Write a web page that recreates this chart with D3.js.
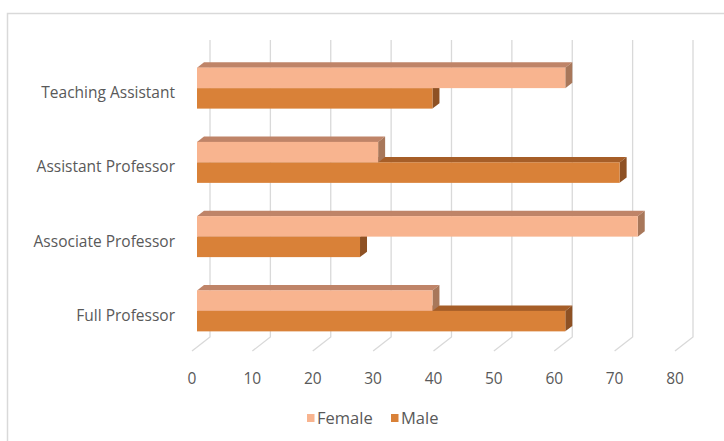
<!DOCTYPE html>
<html>
<head>
<meta charset="utf-8">
<script src="https://cdn.jsdelivr.net/npm/d3@7"></script>
<style>
  body { margin: 0; background: #fff; }
  text { font-family: "Open Sans", "Liberation Sans", sans-serif; fill: #595959; }
</style>
</head>
<body>
<svg id="chart" width="724" height="441"></svg>
<script>
// data (percent by rank)
const categories = ["Teaching Assistant", "Assistant Professor", "Associate Professor", "Full Professor"];
const seriesNames = ["Female", "Male"];
const female = [61, 30, 73, 39];
const male = [39, 70, 27, 61];
const tickValues = [0, 10, 20, 30, 40, 50, 60, 70, 80];

const colors = {
  Female: { front: "#F8B48F", top: "#BF8468", side: "#A8775A" },
  Male: { front: "#D98138", top: "#A65E28", side: "#8E5124" }
};

const svg = d3.select("#chart");

// chart area border
svg.append("rect")
  .attr("x", 7.5).attr("y", 13.5)
  .attr("width", 740).attr("height", 460)
  .attr("fill", "none")
  .attr("stroke", "#d9d9d9")
  .attr("stroke-width", 1.5);

// 3d projection: full depth vector, bar sits between t0 and t1
const depth = { dx: 18, dy: -14 };
const t0 = 5 / 18, t1 = 12 / 18;
const floorFrontY = 351;
const wallTop = 40;

// x scale on the bar front plane
const x = d3.scaleLinear().domain([0, 80]).range([197, 680]);
const xFloor = v => x(v) - depth.dx * t0;          // front edge of floor
const xBack = v => x(v) + depth.dx * (1 - t0);     // back wall

const y = d3.scaleBand().domain(categories).range([51, 348])
  .paddingInner(0.448).paddingOuter(0.224);
const ySub = d3.scaleBand().domain(seriesNames).range([0, y.bandwidth()]);

// gridlines on back wall + floor diagonals
const grid = svg.append("g").attr("class", "grid")
  .attr("stroke", "#d9d9d9").attr("stroke-width", 1.3).attr("fill", "none");
tickValues.forEach(v => {
  grid.append("path")
    .attr("d", `M${xBack(v)},${wallTop} L${xBack(v)},${floorFrontY + depth.dy} L${xFloor(v)},${floorFrontY}`);
});

// tick labels
svg.append("g").selectAll("text")
  .data(tickValues)
  .join("text")
  .attr("x", d => xFloor(d))
  .attr("y", 384)
  .attr("text-anchor", "middle")
  .attr("font-size", 15.5)
  .text(d => d);

// category labels
svg.append("g").selectAll("text")
  .data(categories)
  .join("text")
  .attr("x", 175)
  .attr("y", d => y(d) + y.bandwidth() / 2 + 4.5)
  .attr("dy", "0.35em")
  .attr("text-anchor", "end")
  .attr("font-size", 15.5)
  .text(d => d);

// bars
const bdx = depth.dx * (t1 - t0), bdy = depth.dy * (t1 - t0);
const rows = [];
["Male", "Female"].forEach(s => {
  const vals = s === "Female" ? female : male;
  categories.forEach((c, i) => rows.push({ series: s, cat: c, value: vals[i] }));
});

const bars = svg.append("g").attr("class", "bars");
rows.forEach(d => {
  const x0 = x(0), x1 = x(d.value);
  const yt = y(d.cat) + ySub(d.series), h = ySub.bandwidth();
  const col = colors[d.series];
  const g = bars.append("g");
  g.append("path")
    .attr("d", `M${x0},${yt} L${x1},${yt} L${x1 + bdx},${yt + bdy} L${x0 + bdx},${yt + bdy}Z`)
    .attr("fill", col.top);
  g.append("path")
    .attr("d", `M${x1},${yt} L${x1 + bdx},${yt + bdy} L${x1 + bdx},${yt + h + bdy} L${x1},${yt + h}Z`)
    .attr("fill", col.side);
  g.append("rect")
    .attr("x", x0).attr("y", yt)
    .attr("width", x1 - x0).attr("height", h)
    .attr("fill", col.front);
});

// legend
const legend = svg.append("g").attr("class", "legend");
const legendItems = [{ name: "Female", x: 307 }, { name: "Male", x: 391 }];
legendItems.forEach(l => {
  legend.append("rect")
    .attr("x", l.x).attr("y", 414)
    .attr("width", 7.5).attr("height", 8)
    .attr("fill", colors[l.name].front);
  legend.append("text")
    .attr("x", l.x + 10).attr("y", 424)
    .attr("font-size", 16.5)
    .text(l.name);
});
</script>
</body>
</html>
